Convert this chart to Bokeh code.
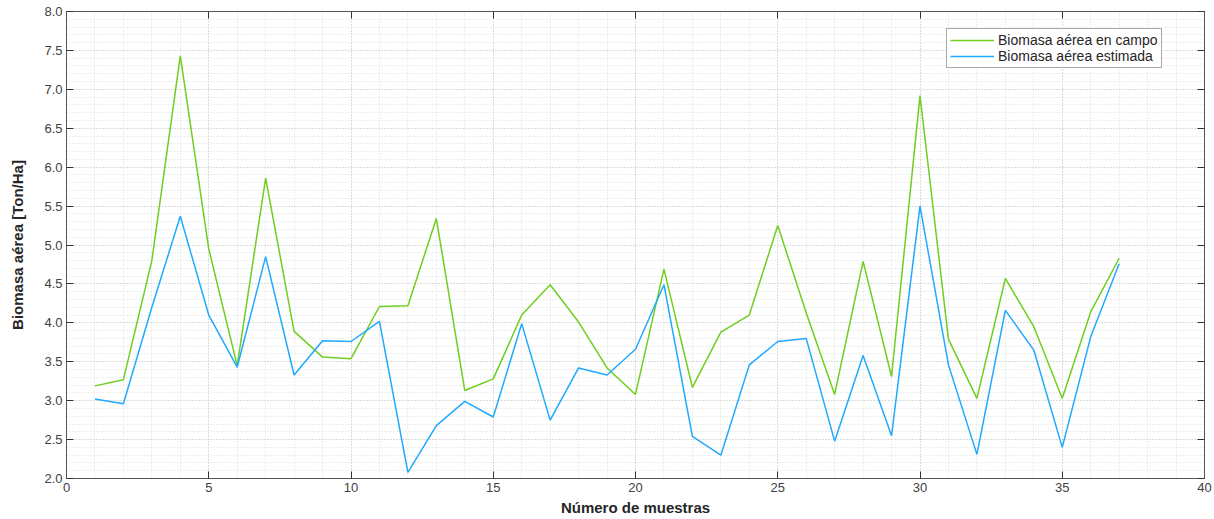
from bokeh.plotting import figure
from bokeh.models import LinearAxis, Range1d, SingleIntervalTicker, Legend, LegendItem, CustomJSTickFormatter
from bokeh.embed import file_html
from bokeh.resources import INLINE

muestras = list(range(1, 38))
campo = [3.19, 3.27, 4.80, 7.43, 4.95, 3.45, 5.86, 3.89, 3.56, 3.54,
         4.21, 4.22, 5.34, 3.13, 3.28, 4.10, 4.49, 4.01, 3.42, 3.08,
         4.69, 3.17, 3.88, 4.10, 5.25, 4.13, 3.08, 4.79, 3.31, 6.92,
         3.79, 3.03, 4.57, 3.95, 3.03, 4.14, 4.83]
estimada = [3.02, 2.96, 4.20, 5.37, 4.10, 3.43, 4.85, 3.33, 3.77, 3.76,
            4.02, 2.08, 2.68, 2.99, 2.79, 3.99, 2.75, 3.42, 3.33, 3.66,
            4.49, 2.54, 2.30, 3.46, 3.76, 3.80, 2.48, 3.58, 2.55, 5.50,
            3.46, 2.31, 4.16, 3.65, 2.40, 3.82, 4.76]
nombres = ["Biomasa aérea en campo", "Biomasa aérea estimada"]
colores = ["#6fce1f", "#1fa9ff"]

FONT = "Liberation Sans"
AX = "#404040"

p = figure(width=1212, height=518, x_range=Range1d(0, 40), y_range=Range1d(2, 8),
           output_backend="svg", toolbar_location=None,
           min_border_left=66, min_border_right=8, min_border_top=11, min_border_bottom=40)
p.background_fill_color = "white"
p.outline_line_color = "#555555"
p.outline_line_width = 1

r1 = p.line(muestras, campo, line_color=colores[0], line_width=1.5)
r2 = p.line(muestras, estimada, line_color=colores[1], line_width=1.5)

p.xaxis.ticker = SingleIntervalTicker(interval=5, num_minor_ticks=5)
p.yaxis.ticker = SingleIntervalTicker(interval=0.5, num_minor_ticks=5)
p.yaxis.formatter = CustomJSTickFormatter(code="return tick.toFixed(1);")

for ax in (p.xaxis[0], p.yaxis[0]):
    ax.axis_line_color = "#555555"
    ax.major_tick_in = 7
    ax.major_tick_out = 0
    ax.minor_tick_in = 0
    ax.minor_tick_out = 0
    ax.major_tick_line_color = "#333333"
    ax.major_label_text_font = FONT
    ax.major_label_text_font_size = "13px"
    ax.major_label_text_color = AX
    ax.axis_label_text_font = FONT
    ax.axis_label_text_font_size = "15px"
    ax.axis_label_text_font_style = "bold"
    ax.axis_label_text_color = "#262626"

p.xaxis.axis_label = "Número de muestras"
p.yaxis.axis_label = "Biomasa aérea [Ton/Ha]"
p.xaxis.axis_label_standoff = 4
p.yaxis.axis_label_standoff = 15
p.xaxis.major_label_standoff = 4
p.yaxis.major_label_standoff = 4

for loc, tk in (("right", SingleIntervalTicker(interval=0.5)), ("above", SingleIntervalTicker(interval=5))):
    a = LinearAxis(ticker=tk, formatter=CustomJSTickFormatter(code="return '';"),
                   axis_line_color="#555555",
                   major_tick_in=7, major_tick_out=0, minor_tick_in=0, minor_tick_out=0,
                   major_tick_line_color="#333333", major_label_standoff=0)
    p.add_layout(a, loc)

p.xgrid.grid_line_color = "#c8c8c8"
p.xgrid.grid_line_dash = "1 2"
p.xgrid.minor_grid_line_color = "#dddddd"
p.xgrid.minor_grid_line_dash = "1 2"
p.ygrid.grid_line_color = "#c8c8c8"
p.ygrid.grid_line_dash = "1 2"
p.ygrid.minor_grid_line_color = "#dddddd"
p.ygrid.minor_grid_line_dash = "1 2"

legend = Legend(items=[LegendItem(label=nombres[0], renderers=[r1]),
                       LegendItem(label=nombres[1], renderers=[r2])],
                location=(880, 410))
legend.label_text_font = FONT
legend.label_text_font_size = "14px"
legend.label_text_color = "#262626"
legend.border_line_color = "#555555"
legend.border_line_width = 1
legend.glyph_width = 44
legend.glyph_height = 14
legend.label_height = 14
legend.spacing = 0
legend.padding = 3
legend.margin = 0
legend.label_standoff = 4
p.add_layout(legend, "center")

open("out.html", "w").write(file_html(p, INLINE))
